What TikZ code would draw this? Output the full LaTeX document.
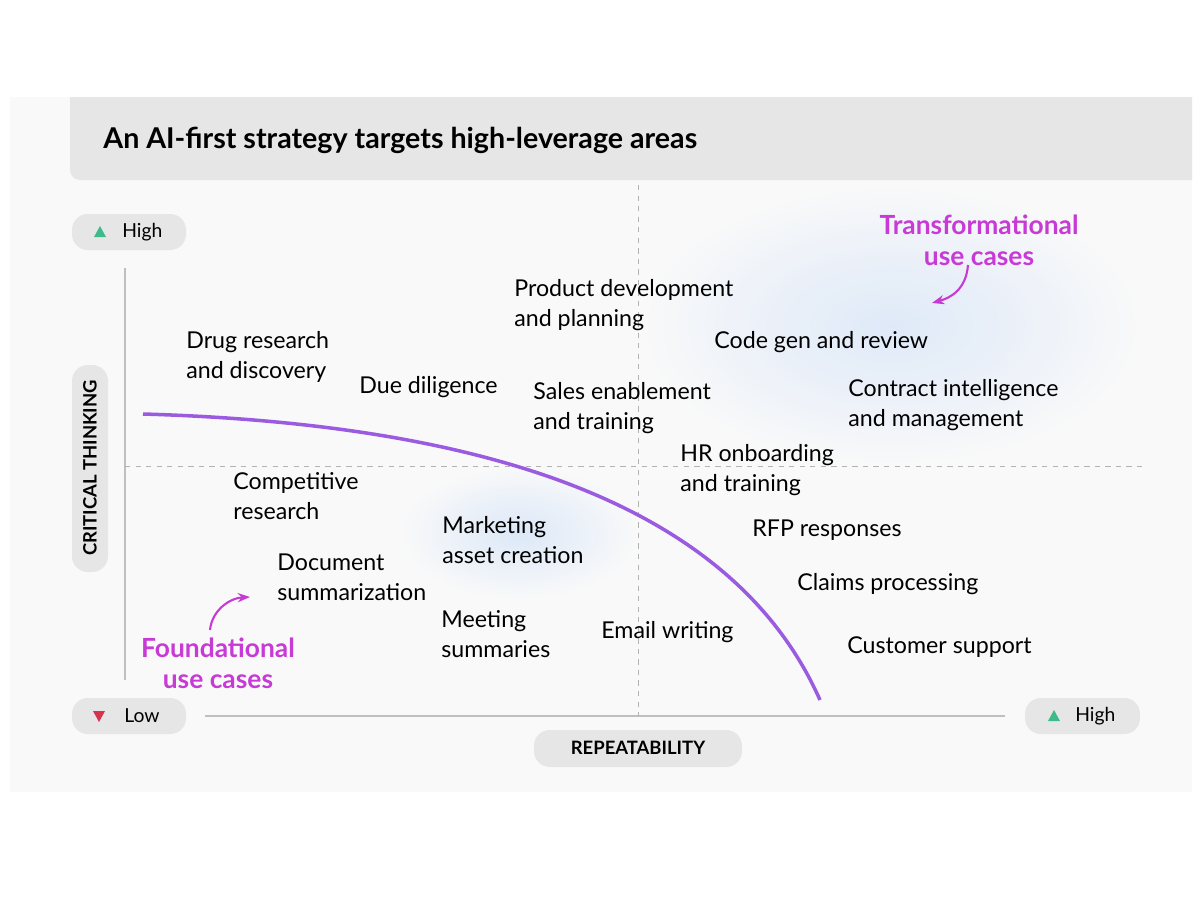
\documentclass[tikz,border=0pt]{standalone}
\usepackage{fontspec}
\setmainfont{Lato}
\usetikzlibrary{arrows.meta,shapes.geometric,fadings}
\definecolor{magen}{HTML}{C83AD6}
\definecolor{curv}{HTML}{9A5BE0}
\definecolor{pill}{HTML}{E6E6E6}
\definecolor{glow}{HTML}{DCE8F8}
\definecolor{bg}{HTML}{F9F9F9}
\definecolor{upg}{HTML}{3DBA8A}
\definecolor{dnr}{HTML}{D6334F}
\begin{document}
\begin{tikzpicture}[x=0.02cm,y=-0.02cm,
  lbl/.style={anchor=west,align=left,font=\fontsize{13.2}{17}\selectfont,inner sep=0pt},
  mag/.style={align=center,font=\fontsize{15}{17.5}\selectfont\bfseries,text=magen,inner sep=0pt},
  pillbox/.style={fill=pill,rounded corners=9pt,inner sep=0pt},
  ptxt/.style={font=\fontsize{11}{12}\selectfont,inner sep=0pt}]
\useasboundingbox (0,0) rectangle (1200,900);
\fill[white] (0,0) rectangle (1200,900);
\fill[bg] (10,97) rectangle (1192,792);
% glows
\shade[inner color=glow,outer color=bg,opacity=0.9] (640,185) rectangle (1142,466);
\shade[inner color=glow,outer color=bg] (400,466) rectangle (638,600);
\fill[pill] (70,97) -- (1192,97) -- (1192,180) -- (80,180) arc[start angle=90,end angle=180,radius=10] -- cycle;
\node[anchor=west,font=\fontsize{16.3}{20}\selectfont\bfseries,inner sep=0pt] (title) at (103,140) {An AI-first strategy targets high-leverage areas};
% axes
\draw[black!25,line width=1pt] (125,268) -- (125,680);
\draw[black!25,line width=1pt] (205,716) -- (1005,716);
\draw[black!30,dashed] (638,185) -- (638,716);
\draw[black!30,dashed] (125,466) -- (1142,466);
% pills
\fill[pillbox] (72,214) rectangle (186,250);
\fill[upg] (94,237) -- (106,237) -- (100,226) -- cycle;
\node[ptxt,anchor=west] (hi) at (122,232) {High};
\fill[pillbox] (72,698) rectangle (186,734);
\fill[dnr] (93,711) -- (105,711) -- (99,722) -- cycle;
\node[ptxt,anchor=west] (lo) at (124,716) {Low};
\fill[pillbox] (1025,698) rectangle (1140,734);
\fill[upg] (1048,721) -- (1060,721) -- (1054,710) -- cycle;
\node[ptxt,anchor=west] (hi2) at (1075,716) {High};
\fill[pillbox] (534,730) rectangle (742,767);
\node[ptxt,font=\fontsize{10.5}{12}\selectfont\bfseries] (rep) at (638,748) {REPEATABILITY};
\fill[pillbox] (72,365) rectangle (108,572);
\node[ptxt,font=\fontsize{10.5}{12}\selectfont\bfseries,rotate=90] (ct) at (90,468) {CRITICAL THINKING};
% curve
\draw[curv,line width=2pt] (143,414) .. controls (520,425) and (740,520) .. (820,700);
% labels
\node[lbl] (pd) at (514,305) {Product development\\and planning};
\node[lbl] (dr) at (186,357) {Drug research\\and discovery};
\node[lbl] (dd) at (359,387) {Due diligence};
\node[lbl] (se) at (533,408) {Sales enablement\\and training};
\node[lbl] (cg) at (714,342) {Code gen and review};
\node[lbl] (ci) at (848,405) {Contract intelligence\\and management};
\node[lbl] (hr) at (680,470) {HR onboarding\\and training};
\node[lbl] (cr) at (233,496) {Competitive\\research};
\node[lbl] (ma) at (442,540) {Marketing\\asset creation};
\node[lbl] (rfp) at (752,530) {RFP responses};
\node[lbl] (ds) at (277,577) {Document\\summarization};
\node[lbl] (cp) at (797,584) {Claims processing};
\node[lbl] (ms) at (441,634) {Meeting\\summaries};
\node[lbl] (ew) at (601,632) {Email writing};
\node[lbl] (cs) at (847,647) {Customer support};
\node[mag] (tr) at (979,240) {Transformational\\use cases};
\node[mag] (fd) at (218,663) {Foundational\\use cases};
\draw[magen,line width=1.2pt,-{Stealth[length=7pt]}] (968,265) .. controls (966,290) and (950,298) .. (932,303);
\draw[magen,line width=1.2pt,-{Stealth[length=7pt]}] (210,630) .. controls (212,610) and (230,598) .. (250,597);
\end{tikzpicture}
\end{document}
